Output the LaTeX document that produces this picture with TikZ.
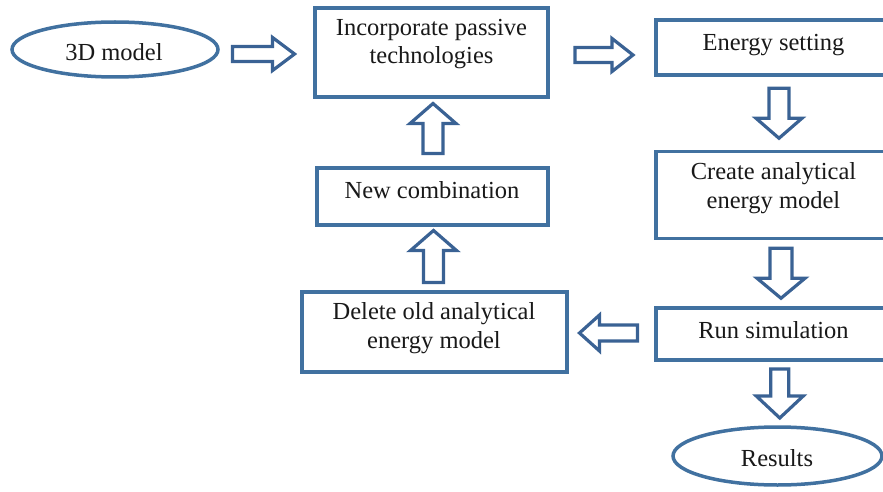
\documentclass[tikz,border=0pt]{standalone}
\usepackage{fontspec}
\setmainfont{Liberation Serif}
\usetikzlibrary{shapes.geometric,calc}
\definecolor{boxblue}{RGB}{65,113,160}
\definecolor{arrblue}{RGB}{58,98,148}
\definecolor{txt}{RGB}{25,25,25}
\newcommand{\blockarr}[6]{% angle, center, L, H, S, K
  \draw[barrow,shift={#2},rotate=#1]
    ({-#3/2},{-#5/2}) -- ({#3/2-#6},{-#5/2}) -- ({#3/2-#6},{-#4/2}) --
    ({#3/2},0) -- ({#3/2-#6},{#4/2}) -- ({#3/2-#6},{#5/2}) --
    ({-#3/2},{#5/2}) -- cycle;}
\begin{document}
\begin{tikzpicture}[x=1pt,y=-1pt,
  boxnode/.style={draw=boxblue,line width=3.5pt,rectangle,fill=white,inner sep=0pt},
  ovalnode/.style={draw=boxblue,line width=3.5pt,ellipse,fill=white,inner sep=0pt},
  lbl/.style={anchor=base,text=txt,inner sep=0pt,font=\fontsize{24.5}{28}\selectfont},
  barrow/.style={draw=arrblue,line width=3.2pt,fill=white,line join=miter}]
\useasboundingbox (0,0) rectangle (883,492);
\clip (0,0) rectangle (883,492);
% shapes
\node[ovalnode,minimum width=206pt,minimum height=55pt] (m3d) at (115,49.5) {};
\node[boxnode,minimum width=233pt,minimum height=89pt] (inc) at (431.5,52.5) {};
\node[boxnode,minimum width=244pt,minimum height=55pt] (es) at (778,47.5) {};
\node[boxnode,minimum width=244pt,minimum height=87pt] (cae) at (778,195) {};
\node[boxnode,minimum width=244pt,minimum height=52pt] (rs) at (778,334) {};
\node[ovalnode,minimum width=209pt,minimum height=58pt] (res) at (777.5,456) {};
\node[boxnode,minimum width=265pt,minimum height=80pt] (del) at (434.5,332) {};
\node[boxnode,minimum width=231pt,minimum height=57pt] (nc) at (432.5,196.5) {};
% labels
\node[lbl] (t3d) at (114,61) {3D model};
\node[lbl] (tinc1) at (431.5,35.5) {Incorporate passive};
\node[lbl] (tinc2) at (431.5,63.5) {technologies};
\node[lbl] (tes) at (773.5,51) {Energy setting};
\node[lbl] (tcae1) at (773.5,179) {Create analytical};
\node[lbl] (tcae2) at (773.5,208) {energy model};
\node[lbl] (trs) at (773.5,338) {Run simulation};
\node[lbl] (tres) at (777,466) {Results};
\node[lbl] (tdel1) at (434,319) {Delete old analytical};
\node[lbl] (tdel2) at (434,348) {energy model};
\node[lbl] (tnc) at (432,198) {New combination};
% block arrows between nodes
\blockarr{0}{($(m3d.east)!0.5!(inc.west)+(-3,3)$)}{62}{33}{15}{22}
\blockarr{0}{($(inc.east)!0.5!(es.west)+(2,5)$)}{58}{33}{15}{21}
\blockarr{-90}{($(es.south)!0.5!(cae.north)+(1,0)$)}{50}{46}{20}{20}
\blockarr{-90}{($(cae.south)!0.5!(rs.north)+(3,0)$)}{50}{48}{22}{20}
\blockarr{-90}{($(rs.south)!0.5!(res.north)+(2,0)$)}{49}{47}{18}{22}
\blockarr{180}{($(rs.west)!0.5!(del.east)+(-3,0)$)}{58}{36}{16}{20}
\blockarr{90}{($(del.north)!0.5!(nc.south)+(0,-2)$)}{52}{46}{20}{20}
\blockarr{90}{($(nc.north)!0.5!(inc.south)+(1,-4)$)}{50}{46}{20}{20}
\end{tikzpicture}
\end{document}
